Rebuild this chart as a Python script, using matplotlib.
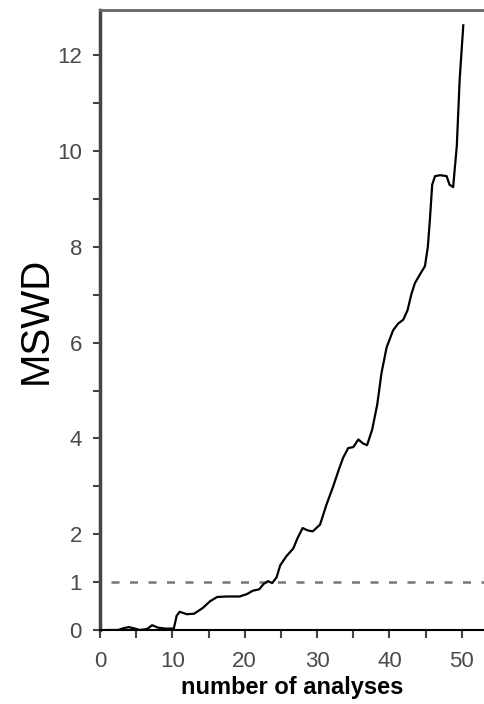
import matplotlib
matplotlib.use('Agg')
import matplotlib.pyplot as plt
from matplotlib.ticker import FixedLocator

plt.rcParams['font.family'] = ['Liberation Sans', 'DejaVu Sans']

# MSWD as analyses are added
n_analyses = [1.0, 2.5, 3.3, 4.0, 4.8, 5.5, 6.5, 7.2, 8.0, 9.0, 10.2, 10.6, 11.0, 12.0, 13.0,
              14.2, 15.2, 16.2, 17.5, 19.3, 20.3, 21.1, 22.0, 22.6, 23.2, 23.8, 24.4, 24.9,
              25.8, 26.7, 27.3, 28.0, 28.7, 29.4, 30.4, 31.3, 32.2, 33.0, 33.6, 34.3, 35.0,
              35.7, 36.3, 36.9, 37.6, 38.3, 38.9, 39.6, 40.5, 41.2, 41.9, 42.5, 43.0, 43.5,
              44.3, 44.9, 45.3, 45.6, 45.9, 46.3, 47.0, 47.9, 48.3, 48.8, 49.0, 49.3, 49.7, 50.2]
mswd = [0.0, 0.0, 0.04, 0.06, 0.03, 0.0, 0.02, 0.1, 0.05, 0.03, 0.03, 0.3, 0.38, 0.33, 0.34,
        0.46, 0.6, 0.69, 0.7, 0.7, 0.75, 0.82, 0.85, 0.96, 1.02, 0.98, 1.1, 1.35,
        1.55, 1.7, 1.92, 2.13, 2.08, 2.06, 2.2, 2.62, 2.99, 3.35, 3.6, 3.8, 3.82,
        3.98, 3.9, 3.86, 4.18, 4.7, 5.37, 5.9, 6.26, 6.4, 6.48, 6.68, 7.0, 7.24,
        7.45, 7.6, 8.0, 8.6, 9.3, 9.48, 9.5, 9.48, 9.3, 9.25, 9.6, 10.1, 11.5, 12.63]

x_ticks = [0, 10, 20, 30, 40, 50]
x_minor = [5, 15, 25, 35, 45]
y_ticks = [0, 1, 2, 4, 6, 8, 10, 12]
y_minor = [3, 5, 7, 9, 11]
reference_mswd = 1

fig = plt.figure(figsize=(4.85, 7.04), dpi=100)
ax = fig.add_axes([100 / 485, 1 - 630 / 704, 385 / 485, 620 / 704])

ax.axhline(reference_mswd, color='#777777', lw=1.8, linestyle=(3, (3.2, 4.2)))
ax.plot(n_analyses, mswd, color='black', lw=1.6, solid_joinstyle='round')

ax.set_xlim(0, 53.2)
ax.set_ylim(0, 12.95)

ax.xaxis.set_major_locator(FixedLocator(x_ticks))
ax.xaxis.set_minor_locator(FixedLocator(x_minor))
ax.yaxis.set_major_locator(FixedLocator(y_ticks))
ax.yaxis.set_minor_locator(FixedLocator(y_minor))

ax.tick_params(axis='both', which='both', direction='out', colors='#444444',
               labelcolor='#4a4a4a', labelsize=16)
ax.tick_params(axis='x', which='both', length=6, width=1.5, pad=9)
ax.tick_params(axis='y', which='both', length=5, width=1.5, pad=8)

ax.spines['right'].set_visible(False)
ax.spines['left'].set_linewidth(2.5)
ax.spines['left'].set_color('#444444')
ax.spines['bottom'].set_linewidth(1.5)
ax.spines['bottom'].set_color('black')
ax.spines['top'].set_linewidth(2.0)
ax.spines['top'].set_color('#666666')

ax.set_xlabel('number of analyses', fontsize=17, fontweight='bold', labelpad=3)
ax.set_ylabel('MSWD', fontsize=29, labelpad=2)

fig.savefig('out.png', dpi=100)
